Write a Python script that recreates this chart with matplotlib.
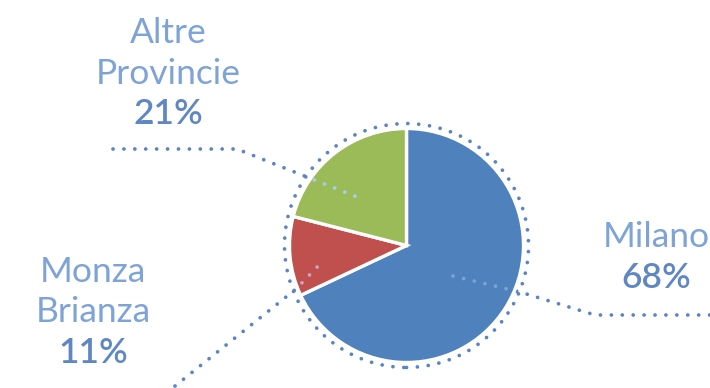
import matplotlib
matplotlib.use("Agg")
import matplotlib.pyplot as plt
from matplotlib.patches import Circle

# share of each province
labels = ['Milano', 'Monza\nBrianza', 'Altre\nProvincie']
values = [68, 11, 21]
colors = ['#4f81bd', '#c0504d', '#9bbb59']
inner_colors = ['#7fa3d3', '#c9a4c8', '#aacdea']

W, H = 710, 388
text_col = '#7ea3d6'
pct_col = '#5f87c4'
dot_col = '#5b84c4'

# pixel layout (y measured from top)
cx, cy, r = 406.5, 245.5, 117
leaders = [
    [(453, 276), (520, 292), (595, 315), (712, 315)],
    [(175, 386), (296, 289), (322, 262)],
    [(113, 149), (237, 149), (362, 199)],
]
label_pos = [(656, 247), (93, 282), (168, 43)]
line_gap = 40.5


def flip(pts):
    return [p[0] for p in pts], [H - p[1] for p in pts]


fig = plt.figure(figsize=(W / 100, H / 100), dpi=100)
ax = fig.add_axes([0, 0, 1, 1])

wedges, _ = ax.pie(values, colors=colors, startangle=90, counterclock=False,
                   center=(cx, H - cy), radius=r,
                   wedgeprops=dict(edgecolor='white', linewidth=2.4))
for w in wedges:
    w.set_zorder(2)

dot_ls = (0, (0.01, 2.9))
dots = dict(linewidth=2.7, linestyle=dot_ls, dash_capstyle='round')

# dotted ring round the pie
ring = Circle((cx, H - cy), r + 5, fill=False, edgecolor=dot_col, zorder=3,
              linewidth=2.7, linestyle=dot_ls, capstyle='round')
ax.add_patch(ring)

for i, pts in enumerate(leaders):
    xs, ys = flip(pts)
    ax.plot(xs, ys, color=dot_col, zorder=1, **dots)
    inner, = ax.plot(xs, ys, color=inner_colors[i], zorder=4, **dots)
    inner.set_clip_path(wedges[i])

for lab, val, (x, y) in zip(labels, values, label_pos):
    lines = lab.split('\n')
    for k, t in enumerate(lines):
        ax.text(x, H - (y + k * line_gap), t, ha='center', va='baseline',
                fontsize=25.5, color=text_col, family='Lato', fontweight='normal')
    ax.text(x, H - (y + len(lines) * line_gap), f'{val}%', ha='center',
            va='baseline', fontsize=25.5, color=pct_col, family='Lato',
            fontweight='semibold')

ax.set_xlim(0, W)
ax.set_ylim(0, H)
ax.set_aspect('equal')
ax.axis('off')

fig.savefig('out.png', dpi=100)
